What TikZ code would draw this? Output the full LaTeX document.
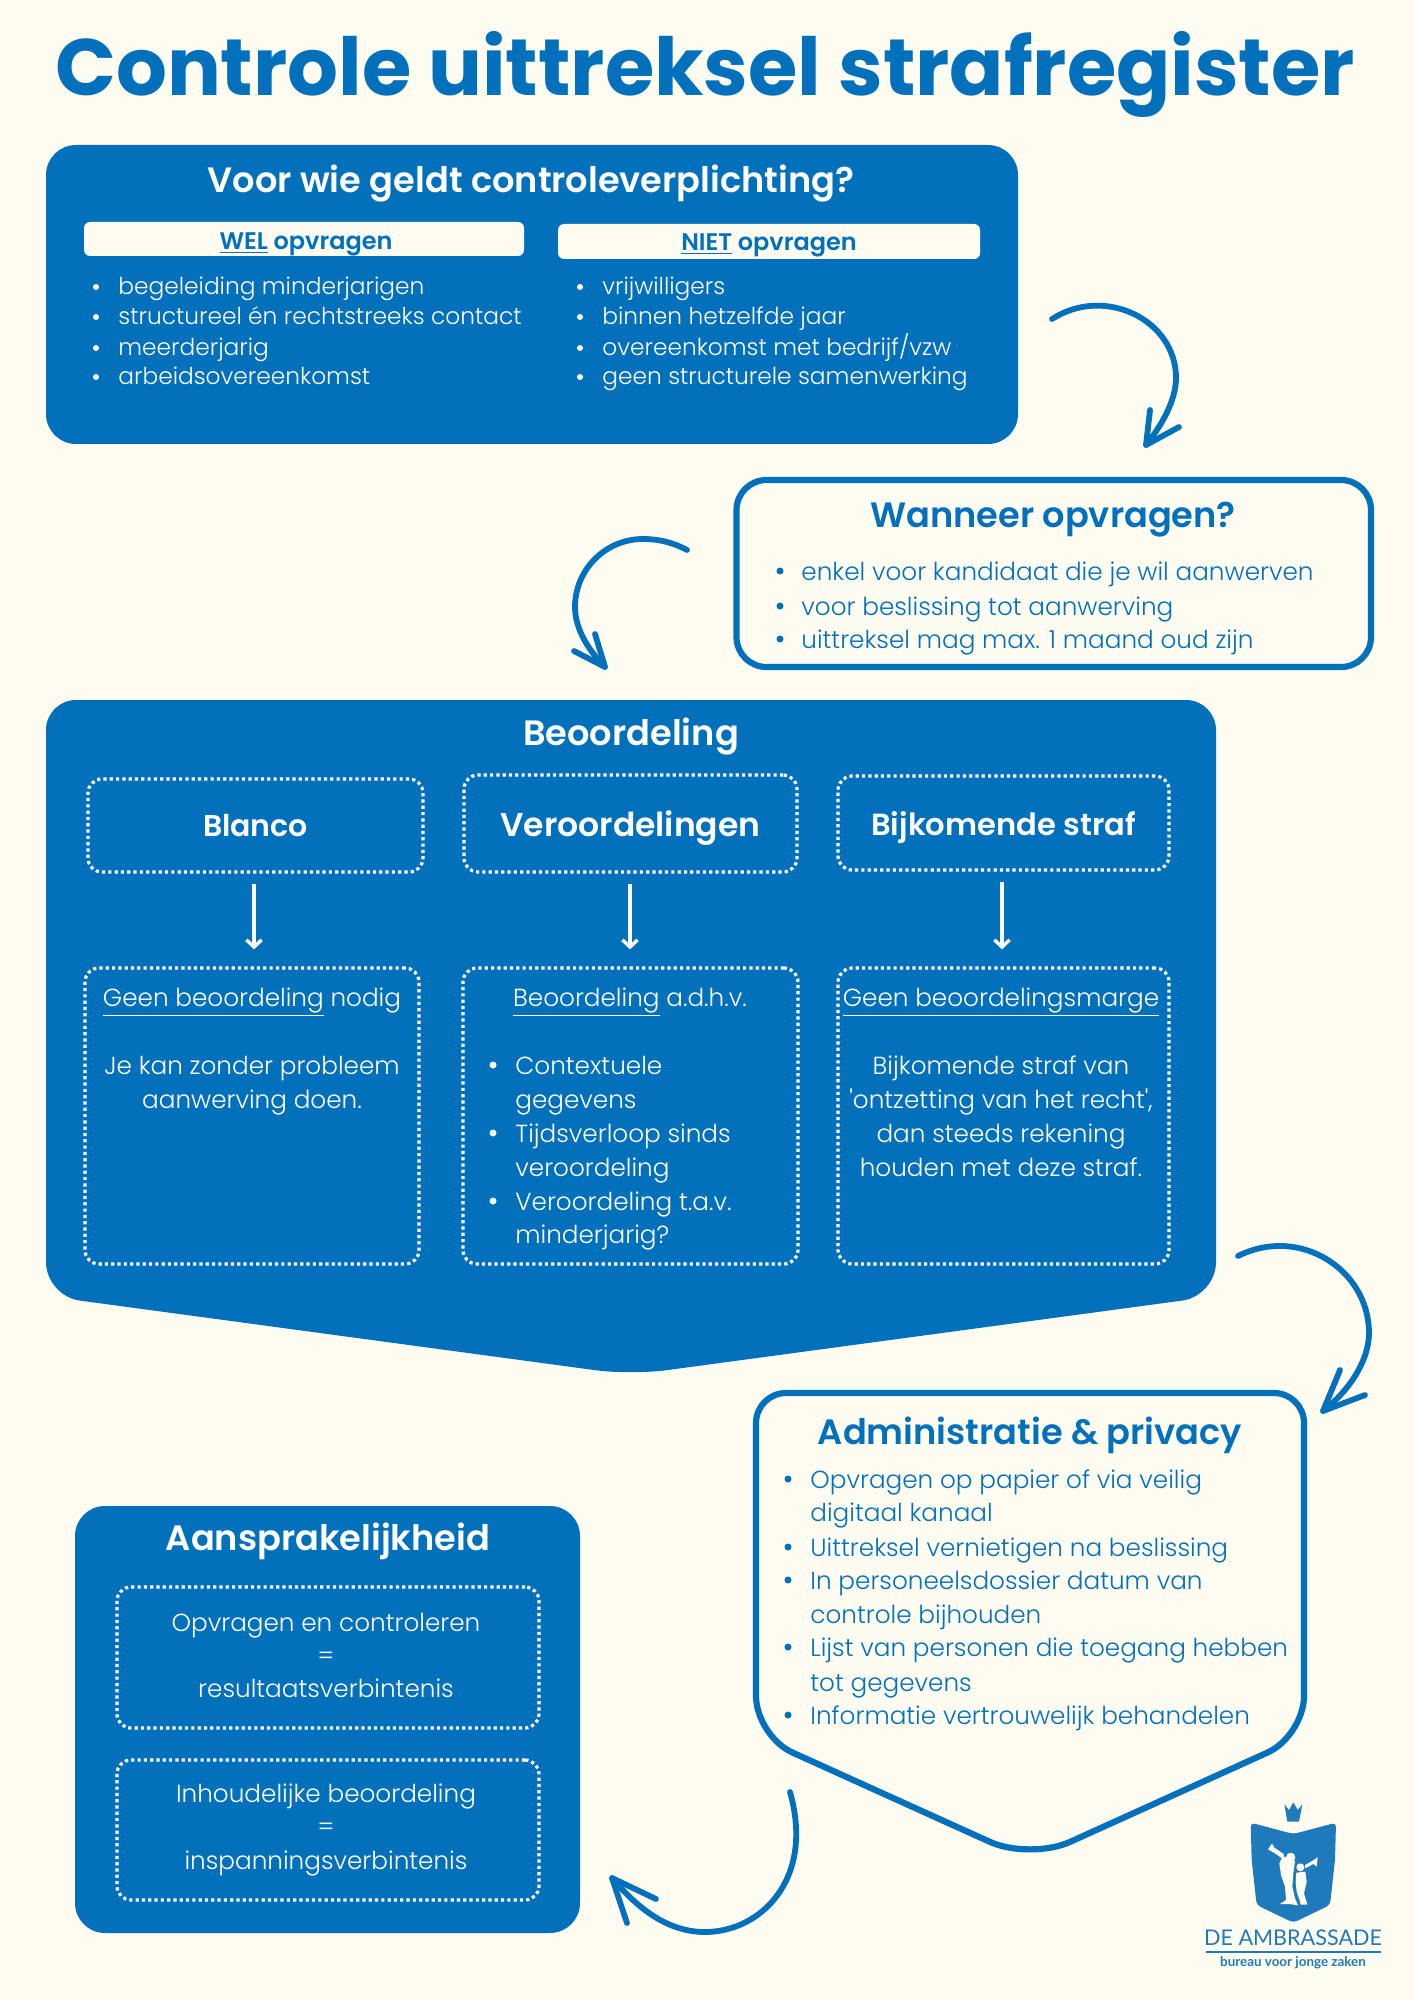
\documentclass[tikz,border=0pt]{standalone}
\usepackage{fontspec}
\setmainfont{Poppins Light}[BoldFont=Poppins SemiBold]
\newfontfamily\heavyfont{Poppins Bold}
\newfontfamily\logofont{Lato}
\usepackage{tikz}
\usetikzlibrary{arrows.meta}
\definecolor{ambblue}{HTML}{0370BB}
\definecolor{ambcream}{HTML}{FEFCF0}
\definecolor{logoblue}{HTML}{1F7ABC}

\begin{document}
\begin{tikzpicture}[x=0.5pt,y=-0.5pt]
		\tikzset{panel/.style={fill=ambblue,rounded corners=15pt}};
		\tikzset{outlinepanel/.style={draw=ambblue,line width=3.1pt,fill=ambcream,rounded corners=15pt}};
		\tikzset{dotbox/.style={draw=white,line width=1.6pt,dash pattern=on 1.6pt off 1.55pt,rounded corners=7pt,inner sep=0pt,align=center,text=white}};
		\tikzset{paneltitle/.style={font=\bfseries\fontsize{17.6}{20}\selectfont,anchor=mid,inner sep=0pt,yshift=-3.5pt}};
		\tikzset{smalltext/.style={font=\fontsize{11.65}{13}\selectfont,anchor=mid west,inner sep=0pt,yshift=-1.2pt}};
		\tikzset{bodytext/.style={font=\fontsize{12.35}{14}\selectfont,anchor=mid west,inner sep=0pt,yshift=-1.8pt}};
		\tikzset{midtext/.style={font=\fontsize{12.35}{14}\selectfont,anchor=mid,inner sep=0pt,text=white,yshift=-1.8pt}};
		\tikzset{curvearrow/.style={draw=ambblue,line width=2.9pt,line cap=round,line join=round}};
		\useasboundingbox (0,0) rectangle (1414,2000);
		\fill[ambcream] (0,0) rectangle (1414,2000);

		% title
		\node[font=\heavyfont\fontsize{40}{44}\selectfont,text=ambblue,anchor=mid,inner sep=0pt] (title) at (705,90) {Controle uittreksel strafregister};

		% eerste blok
		\fill[panel] (46,145) rectangle (1018,444);
		\node[paneltitle,text=white] (wiehead) at (531,180) {Voor wie geldt controleverplichting?};
		\fill[ambcream,rounded corners=3pt] (84,222) rectangle (524,256);
		\fill[ambcream,rounded corners=3pt] (558,224) rectangle (980,259);
		\node[font=\bfseries\fontsize{12}{14}\selectfont,text=ambblue,anchor=mid,inner sep=0pt] (wel) at (306,244) {\underline{WEL} opvragen};
		\node[font=\bfseries\fontsize{12}{14}\selectfont,text=ambblue,anchor=mid,inner sep=0pt] (niet) at (769,245) {\underline{NIET} opvragen};
		\foreach \y/\t in {287/begeleiding minderjarigen,317/structureel én rechtstreeks contact,348/meerderjarig,377/arbeidsovereenkomst}{
			\fill[white] (96,\y) circle (3);
			\node[smalltext,text=white] (wel\y) at (118,\y) {\t};
		}
		\foreach \y/\t in {287/vrijwilligers,317/binnen hetzelfde jaar,348/{overeenkomst met bedrijf/vzw},377/geen structurele samenwerking}{
			\fill[white] (580,\y) circle (3);
			\node[smalltext,text=white] (niet\y) at (602,\y) {\t};
		}

		% wanneer
		\draw[outlinepanel] (736.5,480) rectangle (1371,667);
		\node[paneltitle,text=ambblue] (wanneerhead) at (1053,515) {Wanneer opvragen?};
		\foreach \y/\t in {571/enkel voor kandidaat die je wil aanwerven,606/voor beslissing tot aanwerving,639/uittreksel mag max. 1 maand oud zijn}{
			\fill[ambblue] (780,\y) circle (3.5);
			\node[bodytext,text=ambblue] (wanneer\y) at (801,\y) {\t};
		}

		% beoordeling
		\fill[ambblue,rounded corners=15pt] (46,700) -- (1216,700) [rounded corners=17pt] -- (1216,1296) [rounded corners=18pt] -- (631,1375) [rounded corners=17pt] -- (46,1296) [rounded corners=15pt] -- cycle;
		\node[paneltitle,text=white] (beoordeling) at (631,733) {Beoordeling};
		\node[dotbox,font=\bfseries\fontsize{15}{17}\selectfont,minimum width=167.5pt,minimum height=46.5pt] (blanco) at (255.5,825.5) {Blanco};
		\node[dotbox,font=\bfseries\fontsize{16.5}{18}\selectfont,text depth=0pt,minimum width=166.5pt,minimum height=48.5pt] (veroordelingen) at (630.5,823.5) {Veroordelingen};
		\node[dotbox,font=\bfseries\fontsize{15.3}{17}\selectfont,text depth=0pt,minimum width=165.5pt,minimum height=47pt] (bijkomend) at (1003.5,823) {Bijkomende straf};
		\node[dotbox,minimum width=167pt,minimum height=148pt] (geen) at (252,1116) {};
		\node[dotbox,minimum width=167.5pt,minimum height=148pt] (adhv) at (630.5,1116) {};
		\node[dotbox,minimum width=165.5pt,minimum height=148pt] (marge) at (1003.5,1116) {};
		\foreach \a/\b/\x in {blanco/geen/254,veroordelingen/adhv/630,bijkomend/marge/1002}{
			\draw[white,line width=1.7pt,-{Straight Barb[length=3.6pt,width=7.6pt]},shorten <=5pt,shorten >=8.5pt] (\x,0 |- \a.south) -- (\x,0 |- \b.north);
		}

		\node[midtext] (geentitel) at (252,997) {\underline{Geen beoordeling} nodig};
		\node[midtext] (geen1) at (252,1065) {Je kan zonder probleem};
		\node[midtext] (geen2) at (252,1099) {aanwerving doen.};

		\node[midtext] (adhvtitel) at (630,997) {\underline{Beoordeling} a.d.h.v.};
		\foreach \y/\t/\b in {1065/Contextuele/1,1099/gegevens/0,1133/Tijdsverloop sinds/1,1167/veroordeling/0,1201/Veroordeling t.a.v./1,1234/minderjarig?/0}{
			\ifnum\b=1 \fill[white] (493,\y) circle (3.5); \fi
			\node[bodytext,text=white] (adhv\y) at (515,\y) {\t};
		}

		\node[midtext] (margetitel) at (1001,997) {\underline{Geen beoordelingsmarge}};
		\foreach \y/\t in {1065/Bijkomende straf van,1099/{\textquotesingle ontzetting van het recht\textquotesingle ,},1133/dan steeds rekening,1167/houden met deze straf.}{
			\node[midtext] (marge\y) at (1001,\y) {\t};
		}

		% administratie
		\draw[outlinepanel] (756,1393) -- (1304,1393) [rounded corners=20pt] -- (1304,1736) [rounded corners=22pt] -- (1030,1860) [rounded corners=20pt] -- (756,1736) [rounded corners=15pt] -- cycle;
		\node[paneltitle,text=ambblue] (adminhead) at (1030,1432) {Administratie \& privacy};
		\foreach \y/\t/\b in {1479/Opvragen op papier of via veilig/1,1512/digitaal kanaal/0,1547/Uittreksel vernietigen na beslissing/1,1580/In personeelsdossier datum van/1,1614/controle bijhouden/0,1647/Lijst van personen die toegang hebben/1,1682/tot gegevens/0,1715/Informatie vertrouwelijk behandelen/1}{
			\ifnum\b=1 \fill[ambblue] (788,\y) circle (3.5); \fi
			\node[bodytext,text=ambblue] (admin\y) at (810,\y) {\t};
		}

		% aansprakelijkheid
		\fill[panel] (75,1506) rectangle (580,1933);
		\node[paneltitle,text=white] (aansprakelijk) at (328,1538) {Aansprakelijkheid};
		\node[dotbox,minimum width=211pt,minimum height=70.5pt] (resultaat) at (328,1657.5) {};
		\node[dotbox,minimum width=211pt,minimum height=70pt] (inspanning) at (328,1830) {};
		\foreach \y/\t in {1622/Opvragen en controleren,1655/=,1688/resultaatsverbintenis,1793/Inhoudelijke beoordeling,1826/=,1860/inspanningsverbintenis}{
			\node[midtext] (aan\y) at (326,\y) {\t};
		}

		% de vier pijlen
		\coordinate (pijlAstart) at (1052,319);
		\coordinate (pijlAtip) at (1146,445);
		\draw[curvearrow] (pijlAstart) .. controls (1105,285) and (1176,320) .. (1176,378) .. controls (1176,400) and (1162,425) .. (pijlAtip);
		\draw[curvearrow] (1150,410) -- (pijlAtip) -- (1179,427);

		\coordinate (pijlBstart) at (687,550);
		\coordinate (pijlBtip) at (605,667);
		\draw[curvearrow] (pijlBstart) .. controls (672,542) and (658,539) .. (643,539) .. controls (605,539) and (575,570) .. (575,607) .. controls (575,630) and (590,652) .. (pijlBtip);
		\draw[curvearrow] (574,651) -- (pijlBtip) -- (595,634);

		\coordinate (pijlCstart) at (1238,1256);
		\coordinate (pijlCtip) at (1323,1411);
		\draw[curvearrow] (pijlCstart) .. controls (1300,1225) and (1369,1270) .. (1369,1333) .. controls (1369,1360) and (1350,1390) .. (pijlCtip);
		\draw[curvearrow] (1340,1370) -- (pijlCtip) -- (1365,1395);

		\coordinate (pijlDstart) at (790,1792);
		\coordinate (pijlDtip) at (612,1878);
		\draw[curvearrow] (pijlDstart) .. controls (815,1880) and (760,1932) .. (705,1932) .. controls (665,1932) and (635,1905) .. (pijlDtip);
		\draw[curvearrow] (627,1923) -- (pijlDtip) -- (656,1899);

		% logo
		\begin{scope}[shift={(1150,1760)},scale=1/3]
			\fill[logoblue] (403,133) -- (417,150) -- (430,127) -- (443,150) -- (457,133) -- (447,185) -- (412,185) -- cycle;
			\fill[logoblue,rounded corners=2pt] (302,188) -- (430,222) -- (558,188) -- (555,300) -- (540,435) -- (430,488) -- (320,435) -- (305,300) -- cycle;
			\fill[ambcream] (422,292) circle (14);
			\fill[ambcream] (354,268) -- (366,250) -- (372,262) -- (402,283) -- (398,296) -- (375,280) -- cycle;
			\fill[ambcream] (398,288) -- (435,303) -- (430,340) -- (427,380) -- (435,415) -- (444,436) -- (418,432) -- (390,432) -- (408,420) -- (405,380) -- (393,345) -- (388,310) -- cycle;
			\fill[ambcream] (451,322) circle (12);
			\fill[ambcream] (503,292) -- (500,320) -- (490,312) -- (465,325) -- (465,315) -- (488,302) -- cycle;
			\fill[ambcream] (439,338) -- (466,335) -- (470,365) -- (462,400) -- (472,434) -- (452,434) -- (448,418) -- (440,395) -- (437,365) -- cycle;
			\fill[logoblue] (167,574) rectangle (693,580);
		\end{scope}
		\node[font=\logofont\fontsize{10.8}{12}\selectfont,text=logoblue,anchor=mid,inner sep=0pt] (logonaam) at (1293,1940) {DE AMBRASSADE};
		\node[font=\logofont\bfseries\fontsize{6.7}{8}\selectfont,text=logoblue,anchor=mid,inner sep=0pt] (logosub) at (1293,1961) {bureau voor jonge zaken};
	\end{tikzpicture}
\end{document}
